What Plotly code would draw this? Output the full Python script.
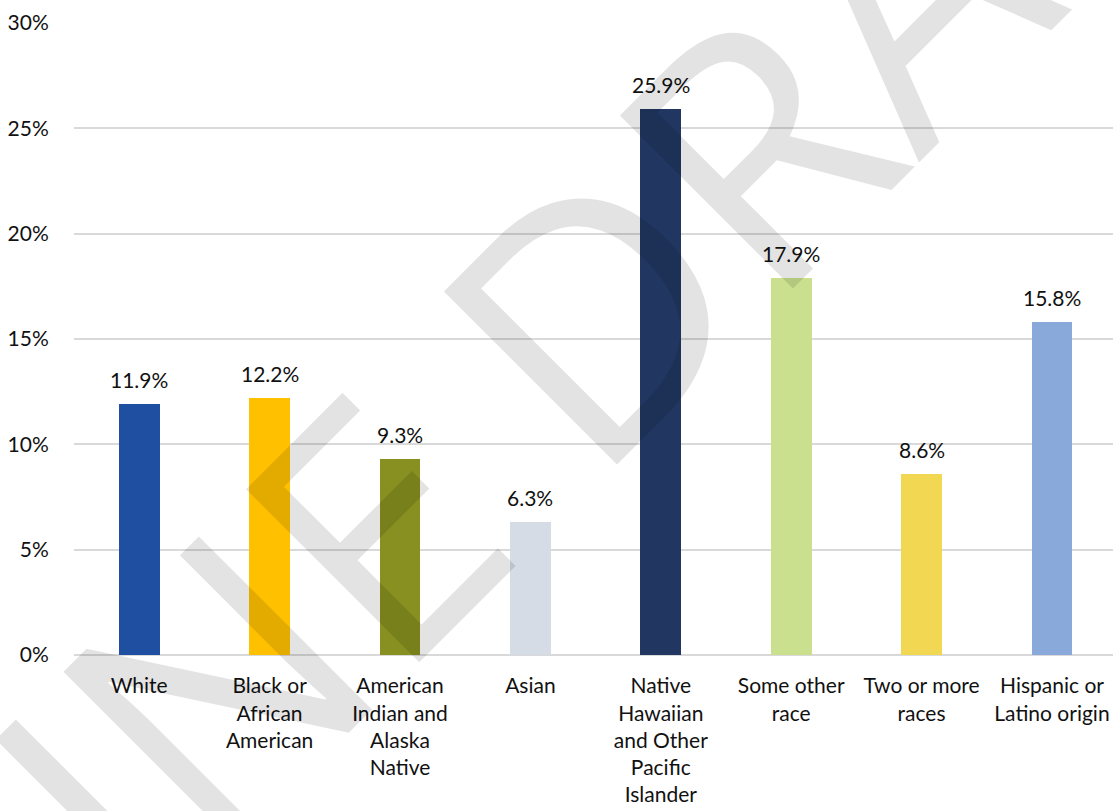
import plotly.graph_objects as go

categories = [
    "White",
    "Black or<br>African<br>American",
    "American<br>Indian and<br>Alaska<br>Native",
    "Asian",
    "Native<br>Hawaiian<br>and Other<br>Pacific<br>Islander",
    "Some other<br>race",
    "Two or more<br>races",
    "Hispanic or<br>Latino origin",
]
values = [11.9, 12.2, 9.3, 6.3, 25.9, 17.9, 8.6, 15.8]
bar_colors = ["#1F4FA0", "#FFC000", "#879020", "#D6DCE5",
              "#213761", "#CAE08E", "#F2D852", "#8AA9DB"]
y_ticks = [0, 5, 10, 15, 20, 25, 30]

FONT = "Lato, Open Sans, sans-serif"
TEXT_COLOR = "#111111"

xs = list(range(len(categories)))

fig = go.Figure(
    go.Bar(
        x=xs,
        y=values,
        marker=dict(color=bar_colors, line=dict(width=0)),
        width=0.314,
        hoverinfo="skip",
    )
)

# value labels above each bar
for xi, v in zip(xs, values):
    fig.add_annotation(
        x=xi, y=v, xref="x", yref="y",
        text=f"{v:.1f}%",
        showarrow=False,
        xanchor="center", yanchor="bottom",
        yshift=10,
        font=dict(family=FONT, size=21, color=TEXT_COLOR),
    )

# faint diagonal watermark across the chart
fig.add_annotation(
    text="ONLINE DRAFT",
    xref="paper", yref="paper",
    x=(394 - 74) / 1039, y=(655 - 498) / 632,
    xanchor="center", yanchor="middle",
    showarrow=False,
    textangle=-45,
    font=dict(family="Open Sans, sans-serif", size=343, weight=500,
              color="rgba(0,0,0,0.11)"),
)

fig.update_layout(
    width=1113, height=811,
    margin=dict(l=74, r=0, t=23, b=156),
    plot_bgcolor="white", paper_bgcolor="white",
    showlegend=False,
    bargap=0,
    font=dict(family=FONT, size=21, color=TEXT_COLOR),
    xaxis=dict(
        tickmode="array",
        tickvals=xs,
        ticktext=categories,
        range=[-0.5, 7.468],
        showgrid=False,
        showline=False,
        zeroline=False,
        ticks="outside", ticklen=12, tickcolor="rgba(0,0,0,0)",
        tickfont=dict(family=FONT, size=21, color=TEXT_COLOR),
    ),
    yaxis=dict(
        range=[0, 30],
        tickvals=y_ticks,
        ticktext=[f"{t}%" for t in y_ticks],
        showgrid=True, gridcolor="#D9D9D9", gridwidth=1.5,
        zeroline=True, zerolinecolor="#D9D9D9", zerolinewidth=1.5,
        showline=False,
        ticks="outside", ticklen=20, tickcolor="rgba(0,0,0,0)",
        tickfont=dict(family=FONT, size=21, color=TEXT_COLOR),
    ),
)

fig.write_html("out.html")
